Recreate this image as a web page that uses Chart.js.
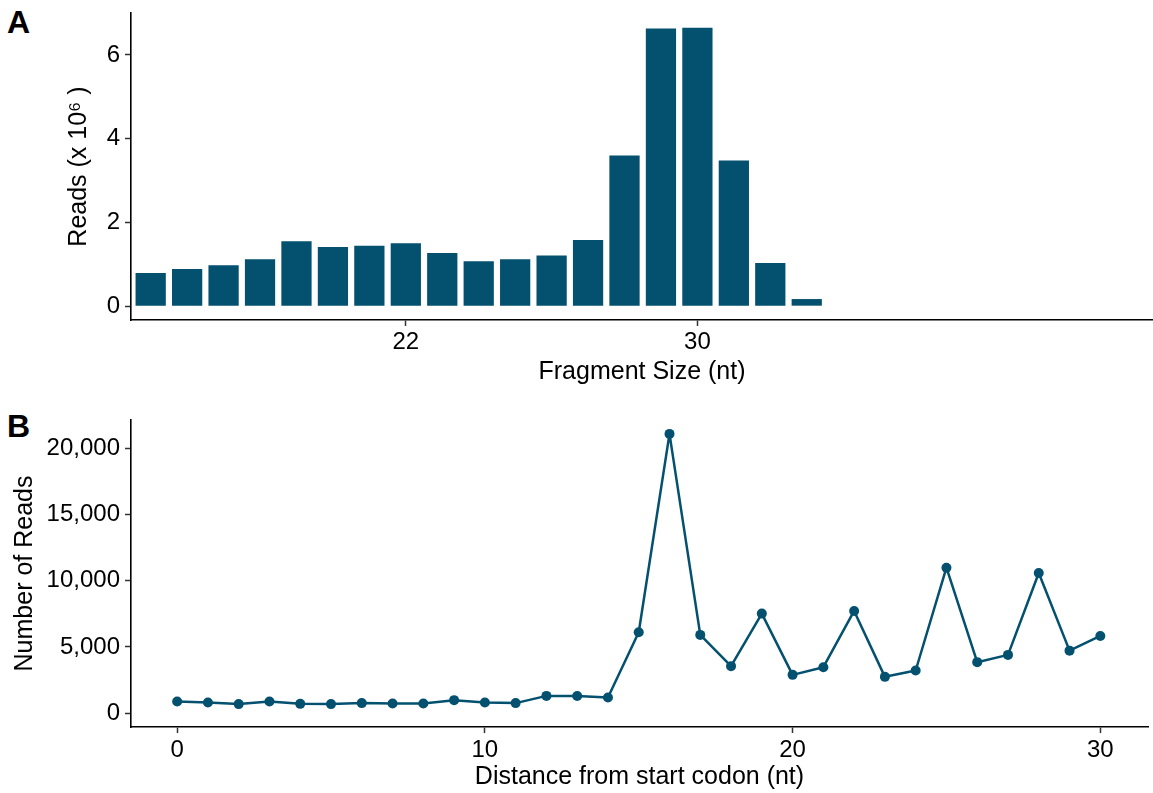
<!DOCTYPE html>
<html>
<head>
<meta charset="utf-8">
<script src="https://cdn.jsdelivr.net/npm/chart.js@4.4.1/dist/chart.umd.min.js"></script>
<style>
  html, body { margin: 0; padding: 0; background: #fff; }
  #wrap { position: relative; width: 1153px; height: 793px; font-family: "Liberation Sans", Arial, sans-serif; }
  canvas { position: absolute; left: 0; }
  .tag { position: absolute; font-weight: bold; font-size: 32px; line-height: 1; color: #000; }
</style>
</head>
<body>
<div id="wrap">
  <div class="tag" style="left:7px; top:6px;">A</div>
  <canvas id="chartA" width="1153" height="393" style="top:0;"></canvas>
  <div class="tag" style="left:7px; top:410px;">B</div>
  <canvas id="chartB" width="1153" height="396" style="top:397px;"></canvas>
</div>
<script>
// panel A: read length distribution
const fragmentSizes = [15, 16, 17, 18, 19, 20, 21, 22, 23, 24, 25, 26, 27, 28, 29, 30, 31, 32, 33];
const readsMillions = [0.79, 0.89, 0.98, 1.12, 1.55, 1.41, 1.44, 1.50, 1.27, 1.07, 1.12, 1.21, 1.58, 3.60, 6.63, 6.65, 3.48, 1.03, 0.17];
const ticksAx = [22, 30];
const ticksAy = [0, 2, 4, 6];

// panel B: distance from start codon
const distances = [0, 1, 2, 3, 4, 5, 6, 7, 8, 9, 10, 11, 12, 13, 14, 15, 16, 17, 18, 19, 20, 21, 22, 23, 24, 25, 26, 27, 28, 29, 30];
const readCounts = [875, 800, 680, 875, 700, 680, 755, 730, 730, 980, 800, 755, 1300, 1290, 1180, 6110, 21100, 5910, 3550, 7520, 2890, 3470, 7720, 2740, 3220, 10990, 3850, 4400, 10590, 4720, 5830];
const ticksBx = [0, 10, 20, 30];
const ticksBy = [0, 5000, 10000, 15000, 20000];

const mainColor = '#03506f';
const fontFamily = '"Liberation Sans", Arial, sans-serif';
Chart.defaults.font.family = fontFamily;
Chart.defaults.color = '#000';

const axis = (opts) => ({
    type: 'linear',
    min: opts.min,
    max: opts.max,
    offset: false,
    grid: { display: true, offset: false, drawOnChartArea: false, drawTicks: true, tickLength: 6, tickColor: '#333', tickWidth: 1.5 },
    border: { display: true, color: '#000', width: 1.6 },
    ticks: {
        color: '#000',
        font: { size: 24 },
        padding: opts.tickPad,
        maxRotation: 0,
        autoSkip: false,
        callback: opts.fmt || ((v) => v),
    },
    title: {
        display: true,
        text: opts.title,
        color: '#000',
        font: { size: 25 },
        padding: opts.titlePad,
    },
    afterBuildTicks: (scale) => { scale.ticks = opts.ticks.map(v => ({ value: v })); },
    afterFit: (scale) => {
        if (opts.width) scale.width = opts.width;
        if (opts.height) scale.height = opts.height;
        scale.paddingTop = 0; scale.paddingBottom = 0;
        scale.paddingLeft = 0; scale.paddingRight = 0;
    },
});

new Chart(document.getElementById('chartA').getContext('2d'), {
    type: 'bar',
    data: {
        datasets: [{
            data: fragmentSizes.map((s, i) => ({ x: s, y: readsMillions[i] })),
            backgroundColor: mainColor,
            borderWidth: 0,
            categoryPercentage: 1,
            barPercentage: 0.83,
        }]
    },
    options: {
        responsive: false,
        animation: false,
        layout: { padding: { top: 13, right: 0, left: 0, bottom: 0 } },
        plugins: { legend: { display: false }, tooltip: { enabled: false } },
        scales: {
            x: axis({ min: 14.46, max: 42.5, ticks: ticksAx, tickPad: 2, title: 'Fragment Size (nt)', titlePad: { bottom: 6 }, height: 73 }),
            y: axis({ min: -0.33, max: 7.0, ticks: ticksAy, tickPad: 5, title: 'Reads (x 10\u2076 )', titlePad: { top: 64 }, width: 131 }),
        }
    }
});

new Chart(document.getElementById('chartB').getContext('2d'), {
    type: 'line',
    data: {
        datasets: [{
            data: distances.map((d, i) => ({ x: d, y: readCounts[i] })),
            borderColor: mainColor,
            backgroundColor: mainColor,
            borderWidth: 2.5,
            borderJoinStyle: 'round',
            pointRadius: 5,
            pointBorderWidth: 0,
            tension: 0,
        }]
    },
    options: {
        responsive: false,
        animation: false,
        layout: { padding: { top: 23, right: 0, left: 0, bottom: 0 } },
        plugins: { legend: { display: false }, tooltip: { enabled: false } },
        scales: {
            x: axis({ min: -1.5, max: 31.55, ticks: ticksBx, tickPad: 3, title: 'Distance from start codon (nt)', titlePad: { bottom: 1 }, height: 66 }),
            y: axis({ min: -1050, max: 22150, ticks: ticksBy, tickPad: 5, title: 'Number of Reads', titlePad: { top: 10 }, width: 131,
                      fmt: (v) => v.toLocaleString('en-US') }),
        }
    }
});
</script>
</body>
</html>
